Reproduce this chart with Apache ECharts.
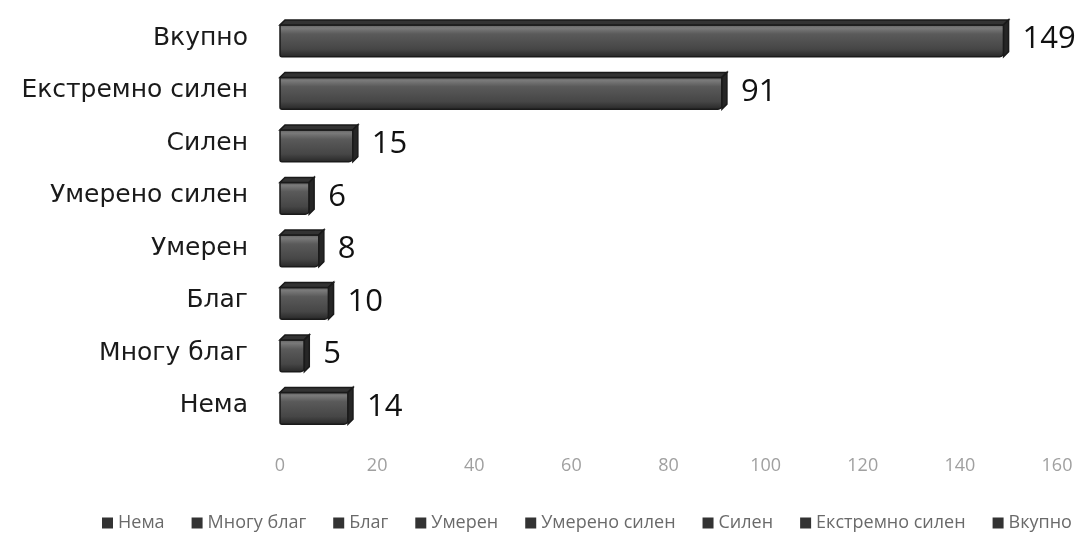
<!DOCTYPE html>
<html>
<head>
<meta charset="utf-8">
<script src="https://cdn.jsdelivr.net/npm/echarts@6/dist/echarts.min.js"></script>
<style>
  html, body { margin: 0; padding: 0; background: #fff; }
  #chart { width: 1082px; height: 538px; }
</style>
</head>
<body>
<div id="chart"></div>
<script>
// Categories listed bottom-to-top (category y axis starts at the bottom)
const categories = ['Нема', 'Многу благ', 'Благ', 'Умерен', 'Умерено силен', 'Силен', 'Екстремно силен', 'Вкупно'];
const values = [14, 5, 10, 8, 6, 15, 91, 149];
const xTicks = { min: 0, max: 160, interval: 20 };

// Draws a bevelled box bar: front face, thin top face, right end face and value label
function renderBox(params, api) {
  const v = api.value(0);
  const c = api.value(1);
  const start = api.coord([0, c]);
  const end = api.coord([v, c]);
  const band = api.size([0, 1])[1];
  const h = band * 0.7;
  const d = 5;
  const yTop = start[1] - h / 2 + d;
  const fh = h - d;
  const x0 = start[0], x1 = end[0];
  return {
    type: 'group',
    children: [
      {
        type: 'rect',
        shape: { x: x0, y: yTop, width: x1 - x0, height: fh, r: [1, 1, 4, 2] },
        style: {
          fill: new echarts.graphic.LinearGradient(0, 0, 0, 1, [
            { offset: 0, color: '#5c5c5c' },
            { offset: 0.12, color: '#7a7a7a' },
            { offset: 0.3, color: '#5a5a5a' },
            { offset: 0.75, color: '#464646' },
            { offset: 1, color: '#262626' }
          ]),
          stroke: '#1a1a1a',
          lineWidth: 1.5
        }
      },
      {
        type: 'polygon',
        shape: { points: [[x0, yTop], [x0 + d, yTop - d], [x1 + d, yTop - d], [x1, yTop]] },
        style: { fill: '#333', stroke: '#1a1a1a', lineWidth: 1.5 }
      },
      {
        type: 'polygon',
        shape: { points: [[x1, yTop], [x1 + d, yTop - d], [x1 + d, yTop - d + fh], [x1, yTop + fh]] },
        style: { fill: '#262626', stroke: '#1a1a1a', lineWidth: 1.5 }
      },
      {
        type: 'text',
        x: x1 + d + 14,
        y: start[1] + 1,
        style: {
          text: String(v),
          fill: '#111',
          font: '31px "Open Sans", sans-serif',
          verticalAlign: 'middle',
          align: 'left'
        }
      }
    ]
  };
}

const series = categories.map((name, i) => ({
  type: 'custom',
  name: name,
  renderItem: renderBox,
  itemStyle: { color: '#333' },
  encode: { x: 0, y: 1 },
  data: [[values[i], i]]
}));

const chart = echarts.init(document.getElementById('chart'), null, { renderer: 'canvas' });
chart.setOption({
  backgroundColor: '#fff',
  animation: false,
  grid: { left: 280, right: 25, top: 12, bottom: 106 },
  xAxis: {
    type: 'value',
    min: xTicks.min,
    max: xTicks.max,
    interval: xTicks.interval,
    axisLine: { show: false },
    axisTick: { show: false },
    splitLine: { show: false },
    axisLabel: {
      color: '#a0a0a0',
      fontSize: 18,
      fontFamily: 'Open Sans',
      margin: 25
    }
  },
  yAxis: {
    type: 'category',
    data: categories,
    axisLine: { show: false },
    axisTick: { show: false },
    axisLabel: {
      color: '#1a1a1a',
      fontSize: 25,
      fontFamily: 'DejaVu Sans',
      margin: 32
    }
  },
  legend: {
    bottom: 1,
    left: 97,
    icon: 'rect',
    itemWidth: 11,
    itemHeight: 11,
    itemGap: 27,
    textStyle: { color: '#6a6a6a', fontSize: 18, fontFamily: 'Open Sans' },
    data: categories
  },
  series: series
});
</script>
</body>
</html>
